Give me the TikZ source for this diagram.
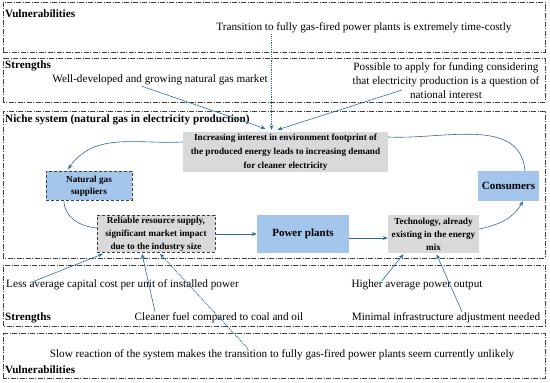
\documentclass[tikz,border=0pt]{standalone}
\usepackage{fontspec}
\setmainfont{Liberation Serif}
\usepackage{xcolor}
\definecolor{linkblue}{HTML}{2C6E96}
\definecolor{boxblue}{HTML}{A4C6EC}
\definecolor{boxgrey}{HTML}{D9D9D9}
\definecolor{edge}{HTML}{404040}
\usepackage{tikz}
\usetikzlibrary{arrows.meta,calc}

\begin{document}
\begin{tikzpicture}[x=1pt, y=1pt,
                   band/.style={draw=edge, line width=0.6pt,
                                dash pattern=on 5pt off 1.5pt on 1pt off 1.5pt},
                   title/.style={anchor=west, inner sep=0pt,
                                 font=\fontsize{11.2}{12}\selectfont\bfseries},
                   note/.style={inner sep=1pt, align=center,
                                font=\fontsize{11.2}{14}\selectfont},
                   greybox/.style={fill=boxgrey, inner sep=0pt, align=center,
                                   font=\fontsize{9.2}{13}\selectfont\bfseries},
                   bluebox/.style={fill=boxblue, inner sep=0pt, align=center,
                                   font=\fontsize{11}{13}\selectfont\bfseries},
                   dashedge/.style={draw=edge, line width=0.6pt, densely dashed},
                   link/.style={draw=linkblue, line width=0.6pt,
                                -{Stealth[length=5pt, width=4pt]}},
                   dotlink/.style={link, line width=0.9pt,
                                   dash pattern=on 0.9pt off 0.9pt},
                   plainlink/.style={draw=linkblue, line width=0.6pt}]
    \useasboundingbox (0,0) rectangle (550,383);
    % the five bands
    \draw[band] (3,331) rectangle (545,381);
    \draw[band] (3,281) rectangle (545,325);
    \draw[band] (3,125) rectangle (545,272);
    \draw[band] (3,57)  rectangle (545,118);
    \draw[band] (3,5)   rectangle (545,50);
    \node[title] (vt1) at (5,369) {Vulnerabilities};
    \node[title] (st1) at (5,317) {Strengths};
    \node[title] (nt)  at (5,263) {Niche system (natural gas in electricity production)};
    \node[title] (st2) at (5,65)  {Strengths};
    \node[title] (vt2) at (5,13)  {Vulnerabilities};
    % texts of the bands
    \node[note] (t1)      at (364,355) {Transition to fully gas-fired power plants is extremely time-costly};
    \node[note] (well)    at (160,303) {Well-developed and growing natural gas market};
    \node[note] (poss)    at (446,302) {Possible to apply for funding considering\\ that electricity production is a question of\\ national interest};
    \node[note] (less)    at (122.5,98) {Less average capital cost per unit of installed power};
    \node[note] (clean)   at (219,65)  {Cleaner fuel compared to coal and oil};
    \node[note] (higher)  at (417,98)  {Higher average power output};
    \node[note] (minimal) at (446,65)  {Minimal infrastructure adjustment needed};
    \node[note] (slow)    at (282,28)  {Slow reaction of the system makes the transition to fully gas-fired power plants seem currently unlikely};
    % niche system
    \node[greybox, minimum width=205pt, minimum height=40pt, font=\fontsize{9.2}{14}\selectfont\bfseries] (inc) at (285.5,231)
        {Increasing interest in environment footprint of\\ the produced energy leads to increasing demand\\ for cleaner electricity};
    \node[bluebox, dashedge, minimum width=86pt, minimum height=29pt, font=\fontsize{9.2}{12}\selectfont\bfseries] (sup) at (89,197) {Natural gas\\ suppliers};
    \node[greybox, dashedge, minimum width=118pt, minimum height=37pt] (rel) at (156,149)
        {Reliable resource supply,\\ significant market impact\\ due to the industry size};
    \node[bluebox, minimum width=92pt, minimum height=38pt] (pp) at (303,149) {Power plants};
    \node[greybox, minimum width=91pt, minimum height=38pt] (tech) at (433.5,149)
        {Technology, already\\ existing in the energy\\ mix};
    \node[bluebox, minimum width=61pt, minimum height=30pt] (cons) at (508.5,197) {Consumers};
    % connectors
    \coordinate (incin) at ([xshift=-14pt,yshift=2pt]inc.north);
    \draw[link] ([xshift=-18pt]well.south) -- ([xshift=-20pt,yshift=3pt]inc.north);
    \draw[link] ([shift={(-44pt,-9pt)}]poss.center) -- ([xshift=-8pt,yshift=2pt]inc.north);
    \draw[dotlink] (t1.south -| incin) -- (incin);
    \draw[link] ([yshift=10pt]inc.west) to[out=183, in=55] ([xshift=-21pt,yshift=2pt]sup.north);
    \draw[plainlink] ([xshift=-25pt]sup.south) to[out=-90, in=175] ([yshift=6pt]rel.west);
    \draw[link] (rel.east) -- (pp.west);
    \draw[link] ([yshift=-4pt]pp.east) -- ([yshift=-4pt]tech.west);
    \draw[link] ([yshift=5pt]tech.east) to[out=12, in=-120] ([xshift=14.5pt]cons.south);
    \draw[plainlink] ([xshift=16.5pt]cons.north) to[out=95, in=-3] ([yshift=15pt]inc.east);
    \draw[link] ([xshift=-89.5pt,yshift=-3pt]less.north) -- ([xshift=-53pt,yshift=-1pt]rel.south);
    \draw[link] ([xshift=-64pt]clean.north) -- ([xshift=-14pt,yshift=-1pt]rel.south);
    \draw[dotlink] ([xshift=-34pt]slow.north) -- ([xshift=4pt,yshift=-1pt]rel.south);
    \draw[link] ([xshift=-35pt,yshift=-2pt]higher.north) -- ([xshift=-30pt,yshift=-1pt]tech.south);
    \draw[link] ([xshift=16pt]minimal.north) -- ([xshift=3pt,yshift=-1pt]tech.south);
\end{tikzpicture}
\end{document}
